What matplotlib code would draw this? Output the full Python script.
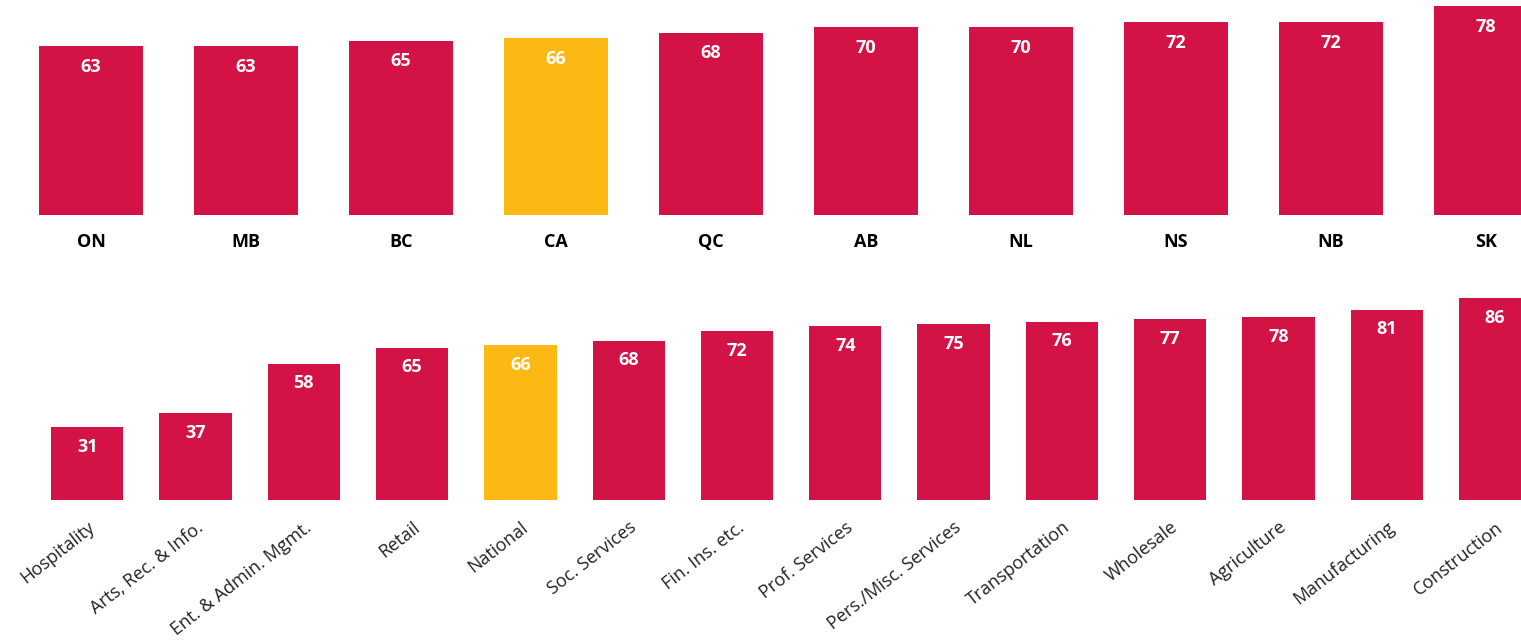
import matplotlib
matplotlib.use("Agg")
import matplotlib.pyplot as plt

plt.rcParams['font.family'] = ['Open Sans', 'DejaVu Sans']

provinces = ['ON', 'MB', 'BC', 'CA', 'QC', 'AB', 'NL', 'NS', 'NB', 'SK']
prov_values = [63, 63, 65, 66, 68, 70, 70, 72, 72, 78]

sectors = ['Hospitality', 'Arts, Rec. & Info.', 'Ent. & Admin. Mgmt.', 'Retail',
           'National', 'Soc. Services', 'Fin. Ins. etc.', 'Prof. Services',
           'Pers./Misc. Services', 'Transportation', 'Wholesale', 'Agriculture',
           'Manufacturing', 'Construction']
sector_values = [31, 37, 58, 65, 66, 68, 72, 74, 75, 76, 77, 78, 81, 86]

highlight = ['CA', 'National']
RED = '#D31245'
GOLD = '#FDB913'

W, H = 1521, 641
fig = plt.figure(figsize=(W / 100, H / 100), dpi=100)


def colors_for(labels):
    return [GOLD if l in highlight else RED for l in labels]


def style(ax):
    for s in ax.spines.values():
        s.set_visible(False)
    ax.set_yticks([])
    ax.tick_params(axis='x', length=0)


# top panel: provinces
ax1 = fig.add_axes([0, (H - 215) / H, 1, 215 / H])
x1 = range(len(provinces))
ax1.bar(x1, prov_values, width=0.671, color=colors_for(provinces))
ax1.set_xlim(-91 / 155, (W - 91) / 155)
ax1.set_ylim(0, 215 / 2.683)
ax1.set_xticks(list(x1))
ax1.set_xticklabels(provinces, fontsize=13, fontweight='bold', color='black')
ax1.tick_params(axis='x', pad=13)
style(ax1)
for i, v in enumerate(prov_values):
    ax1.annotate(str(v), (i, v), xytext=(0, -15), textcoords='offset points',
                 ha='center', va='center', color='white', fontsize=13, fontweight='bold')

# bottom panel: sectors
ax2 = fig.add_axes([0, (H - 500) / H, 1, 210 / H])
x2 = range(len(sectors))
ax2.bar(x2, sector_values, width=0.668, color=colors_for(sectors))
ax2.set_xlim(-87.2 / 108.3, (W - 87.2) / 108.3)
ax2.set_ylim(0, 210 / 2.345)
ax2.set_xticks(list(x2))
ax2.set_xticklabels(sectors, fontsize=13, color='#222222', rotation=38,
                    ha='right', rotation_mode='anchor')
ax2.tick_params(axis='x', pad=13)
style(ax2)
for i, v in enumerate(sector_values):
    ax2.annotate(str(v), (i, v), xytext=(0, -14), textcoords='offset points',
                 ha='center', va='center', color='white', fontsize=13, fontweight='bold')

fig.savefig('out.png', dpi=100, facecolor='white')
